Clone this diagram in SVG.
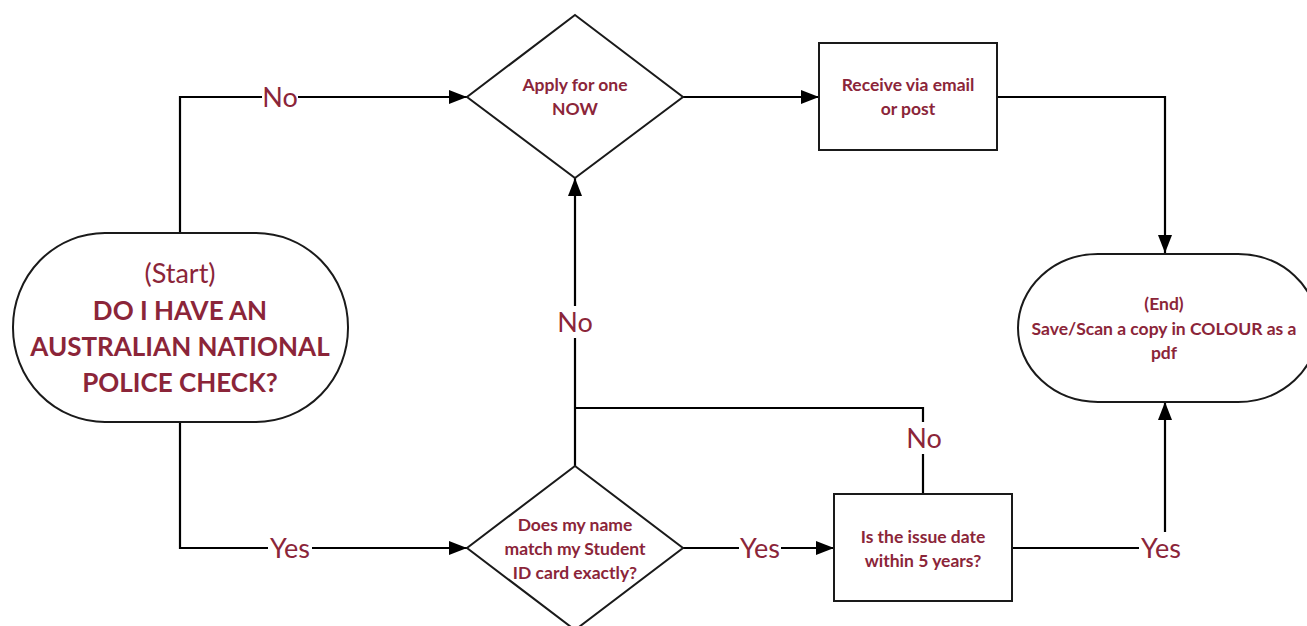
<svg xmlns="http://www.w3.org/2000/svg" width="1307" height="626" viewBox="0 0 1307 626">
<defs>
<marker id="arr" viewBox="0 0 18 14" refX="18" refY="7" markerWidth="18" markerHeight="14" markerUnits="userSpaceOnUse" orient="auto">
<path d="M0,0 L18,7 L0,14 Z" fill="#000"/>
</marker>
<style>
.shape{fill:#fff;stroke:#1a1a1a;stroke-width:2}
.line{fill:none;stroke:#000;stroke-width:2.2}
.t{font-family:Lato,"Liberation Sans",sans-serif;fill:#8B2539;text-anchor:middle}
.nt{font-size:17.5px;font-weight:bold}
.lbl{font-size:27px}
.big{font-size:26px;font-weight:bold}
.bg{fill:#fff}
</style>
</defs>
<rect width="1307" height="626" fill="#fff"/>
<g id="connectors">
<path class="line" d="M180,233 V97 H467" marker-end="url(#arr)"/>
<path class="line" d="M180,422 V548 H467" marker-end="url(#arr)"/>
<path class="line" d="M683,97 H819" marker-end="url(#arr)"/>
<path class="line" d="M997,97 H1165 V253" marker-end="url(#arr)"/>
<path class="line" d="M575,466 V178" marker-end="url(#arr)"/>
<path class="line" d="M923,494 V408 H575"/>
<path class="line" d="M683,548 H834" marker-end="url(#arr)"/>
<path class="line" d="M1012,548 H1165 V402" marker-end="url(#arr)"/>
<rect class="bg" x="262" y="82" width="36" height="30"/>
<text class="t lbl" x="280" y="107">No</text>
<rect class="bg" x="268" y="532" width="44" height="32"/>
<text class="t lbl" x="290" y="558">Yes</text>
<rect class="bg" x="557" y="306" width="36" height="32"/>
<text class="t lbl" x="575" y="332">No</text>
<rect class="bg" x="905" y="422" width="36" height="32"/>
<text class="t lbl" x="924" y="448">No</text>
<rect class="bg" x="739" y="532" width="42" height="32"/>
<text class="t lbl" x="760" y="558">Yes</text>
<rect class="bg" x="1139" y="532" width="44" height="32"/>
<text class="t lbl" x="1161" y="558">Yes</text>
</g>
<g id="start">
<rect class="shape" x="13" y="233" width="335" height="189" rx="92" ry="94"/>
<text class="t lbl" x="180" y="283">(Start)</text>
<text class="t big" x="180" y="320">DO I HAVE AN</text>
<text class="t big" x="180" y="356">AUSTRALIAN NATIONAL</text>
<text class="t big" x="180" y="392">POLICE CHECK?</text>
</g>
<g id="apply">
<polygon class="shape" points="575,15 683,97 575,178 467,97"/>
<text class="t nt" x="575" y="91">Apply for one</text>
<text class="t nt" x="575" y="115">NOW</text>
</g>
<g id="receive">
<rect class="shape" x="819" y="43" width="178" height="107"/>
<text class="t nt" x="908" y="91">Receive via email</text>
<text class="t nt" x="908" y="115">or post</text>
</g>
<g id="end">
<rect class="shape" x="1018" y="254" width="300" height="148" rx="80" ry="74"/>
<text class="t nt" x="1164" y="310">(End)</text>
<text class="t nt" x="1164" y="335">Save/Scan a copy in COLOUR as a</text>
<text class="t nt" x="1164" y="359">pdf</text>
</g>
<g id="match">
<polygon class="shape" points="575,466 683,548 575,630 467,548"/>
<text class="t nt" x="575" y="531">Does my name</text>
<text class="t nt" x="575" y="555">match my Student</text>
<text class="t nt" x="575" y="579">ID card exactly?</text>
</g>
<g id="issue">
<rect class="shape" x="834" y="494" width="178" height="107"/>
<text class="t nt" x="923" y="543">Is the issue date</text>
<text class="t nt" x="923" y="567">within 5 years?</text>
</g>
</svg>
